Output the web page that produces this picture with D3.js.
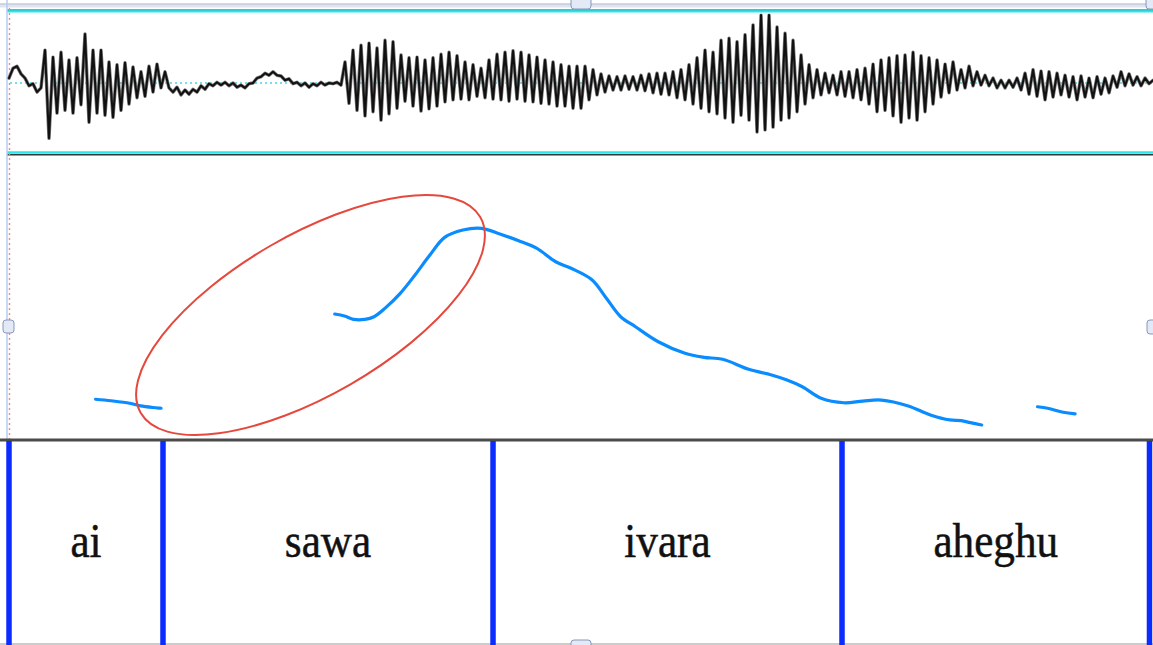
<!DOCTYPE html>
<html>
<head>
<meta charset="utf-8">
<script src="https://cdn.jsdelivr.net/npm/d3@7"></script>
<style>
  html, body { margin: 0; padding: 0; background: #fff; }
  svg { display: block; }
</style>
</head>
<body>
<svg id="chart" width="1153" height="645"></svg>
<script>
// ---------------- DATA ----------------
// Waveform: successive peak amplitudes (percent of full scale), one every waveDt seconds
const waveDt = 0.007024;
const waveAmp = [
  7,21,24,13,7,-4,-1,-13,-7,
  47,-79,37,-43,44,-39,33,-43,36,-31,70,-56,47,-43,47,-46,30,-49,26,-39,29,-30,23,-21,16,-19,24,-13,27,-7,16,
  -7,-13,-6,-17,-10,-16,-9,-13,-4,-9,-1,-4,1,-3,1,-4,0,-6,-3,-7,-1,0,7,9,14,11,16,11,10,4,6,-1,1,-4,0,-6,-1,-4,1,-3,0,-1,1,-3,
  30,-29,47,-39,54,-47,57,-41,50,-53,61,-44,59,-36,40,-26,36,-33,37,-40,33,-37,36,-33,41,-27,44,-24,39,-23,30,-24,26,-19,21,-21,33,-23,41,-24,44,-26,46,-23,44,-26,40,-27,37,-29,33,-30,30,-33,26,-33,24,-36,24,
  -36,24,-24,19,-17,13,-13,10,-10,9,-10,10,-9,9,-10,11,-11,13,-14,14,-16,14,-17,16,-21,19,-24,26,-30,36,
  -36,47,-41,44,-44,61,-50,64,-56,59,-46,69,-53,83,-70,97,-67,97,-63,80,-53,71,-50,61,-41,40,-30,26,-21,19,-17,14,-14,11,-17,16,-19,16,-21,19,
  -24,21,-30,27,-41,33,-39,36,-47,39,-56,40,-50,44,-53,39,-41,36,-30,33,-20,27,-14,30,-10,19,-7,24,-4,16,-3,11,-4,7,-7,
  4,-7,4,-6,7,-10,14,-16,19,-19,17,-24,16,-20,14,-17,11,-20,9,-24,10,-20,7,-21,9,-16,7,-14,10,-6,16,-4,13,-3,9,-4,7,-1,4
];

// Pitch track (time s, F0 Hz), three voiced stretches
const pitchSeg1 = [[0.152,104.4],[0.179,103.5],[0.212,102.0],[0.231,100.4],[0.267,99.0]];
const pitchSeg2 = [
  [0.572,155.4],[0.589,154.2],[0.605,152.2],[0.625,152.2],[0.641,153.8],[0.660,158.8],[0.687,167.8],
  [0.713,178.8],[0.739,190.7],[0.765,201.3],[0.797,205.7],[0.830,206.7],[0.862,203.3],[0.895,199.3],
  [0.927,194.7],[0.960,186.7],[0.987,182.8],[1.024,175.8],[1.047,165.8],[1.074,153.8],[1.100,147.8],
  [1.140,138.8],[1.187,131.9],[1.220,129.5],[1.253,128.3],[1.299,122.3],[1.339,118.9],[1.366,115.9],
  [1.393,111.9],[1.426,105.0],[1.466,102.3],[1.499,103.3],[1.532,103.9],[1.579,100.4],[1.618,95.0],
  [1.652,92.0],[1.672,91.6],[1.688,90.4],[1.708,89.0]
];
const pitchSeg3 = [[1.806,99.9],[1.824,99.0],[1.851,96.6],[1.872,95.6]];

// Text tier
const intervalBounds = [0, 0.2704, 0.8499, 1.4627, 2.0026];
const intervalLabels = ["ai", "sawa", "ivara", "aheghu"];

// Annotation ellipse (centre in time / Hz)
const annotCentre = [0.5294, 154.8];

// ---------------- SCALES ----------------
const svg = d3.select("#chart");
const W = 1153, H = 645;
const x = d3.scaleLinear().domain([0, 2.0]).range([9, 1148]);
const yWave = d3.scaleLinear().domain([-100, 100]).range([153, 13]);
const yPitch = d3.scaleLinear().domain([80, 250]).range([440, 156]);
const tierTop = 441, tierBottom = 645;

svg.append("rect").attr("width", W).attr("height", H).attr("fill", "#fff");

// ---------------- FRAME ----------------
svg.append("rect").attr("x", 0).attr("y", 3.5).attr("width", W).attr("height", 4)
  .attr("fill", "#dfe4ef");
svg.append("line").attr("x1", 0).attr("x2", W).attr("y1", 4).attr("y2", 4)
  .attr("stroke", "#b3bfd8").attr("stroke-width", 1.2);
svg.append("line").attr("x1", 7).attr("x2", W).attr("y1", 11).attr("y2", 11)
  .attr("stroke", "#2ee6e8").attr("stroke-width", 3);
svg.append("line").attr("x1", 7).attr("x2", W).attr("y1", 9.8).attr("y2", 9.8)
  .attr("stroke", "#2a8a98").attr("stroke-width", 0.8);
svg.append("line").attr("x1", 7).attr("x2", W).attr("y1", 152.5).attr("y2", 152.5)
  .attr("stroke", "#2ee6e8").attr("stroke-width", 2.5);
svg.append("line").attr("x1", 7).attr("x2", W).attr("y1", 154.8).attr("y2", 154.8)
  .attr("stroke", "#2d3a3e").attr("stroke-width", 1.6);

svg.append("line").attr("x1", 10).attr("x2", W).attr("y1", yWave(0)).attr("y2", yWave(0))
  .attr("stroke", "#45d6e4").attr("stroke-width", 1.4).attr("stroke-dasharray", "2,3");

svg.append("line").attr("x1", 7).attr("x2", 7).attr("y1", 0).attr("y2", 440)
  .attr("stroke", "#b5cdf0").attr("stroke-width", 1.5);
svg.append("line").attr("x1", 9.5).attr("x2", 9.5).attr("y1", 8).attr("y2", 440)
  .attr("stroke", "#f08a8a").attr("stroke-width", 1.4).attr("stroke-dasharray", "2,3");

// ---------------- WAVEFORM ----------------
const wavePts = waveAmp.map((v, i) => [i * waveDt, v]);
const waveLine = d3.line().x(d => x(d[0])).y(d => yWave(d[1]));
// soft grey body, then dark core
svg.append("path").datum(wavePts)
  .attr("fill", "none").attr("stroke", "#7a7a7a").attr("stroke-width", 3.4)
  .attr("stroke-linejoin", "round").attr("stroke-linecap", "round")
  .attr("d", waveLine);
svg.append("path").datum(wavePts)
  .attr("fill", "none").attr("stroke", "#111").attr("stroke-width", 2)
  .attr("stroke-linejoin", "round").attr("stroke-linecap", "round")
  .attr("d", waveLine);

// ---------------- PITCH ----------------
const pitchLine = d3.line().x(d => x(d[0])).y(d => yPitch(d[1])).curve(d3.curveCatmullRom.alpha(0.5));
[pitchSeg1, pitchSeg2, pitchSeg3].forEach(seg => {
  svg.append("path").datum(seg)
    .attr("fill", "none")
    .attr("stroke", "#0a8cff")
    .attr("stroke-width", 3.2)
    .attr("stroke-linecap", "round")
    .attr("stroke-linejoin", "round")
    .attr("d", pitchLine);
});

svg.append("ellipse")
  .attr("cx", 0).attr("cy", 0).attr("rx", 196).attr("ry", 80)
  .attr("transform", `translate(${x(annotCentre[0])},${yPitch(annotCentre[1])}) rotate(-30)`)
  .attr("fill", "none")
  .attr("stroke", "#e5483c")
  .attr("stroke-width", 2);

svg.append("line").attr("x1", 0).attr("x2", W).attr("y1", 440).attr("y2", 440)
  .attr("stroke", "#4b4b4b").attr("stroke-width", 3);

// ---------------- TEXT TIER ----------------
svg.append("line").attr("x1", 0).attr("x2", W).attr("y1", 644).attr("y2", 644)
  .attr("stroke", "#9a9a9a").attr("stroke-width", 1.2);

const intervals = intervalLabels.map((lab, i) => ({
  label: lab, t0: intervalBounds[i], t1: intervalBounds[i + 1]
}));

svg.append("g").selectAll("line").data(intervalBounds).join("line")
  .attr("x1", d => x(d)).attr("x2", d => x(d))
  .attr("y1", tierTop).attr("y2", tierBottom)
  .attr("stroke", "#0b2bff").attr("stroke-width", 5.5);

svg.append("g").selectAll("text").data(intervals).join("text")
  .attr("transform", d => `translate(${x((d.t0 + d.t1) / 2)},557) scale(0.9,1)`)
  .attr("text-anchor", "middle")
  .attr("font-family", "'Liberation Serif', 'Times New Roman', serif")
  .attr("font-size", 48)
  .attr("fill", "#111")
  .attr("stroke", "#111")
  .attr("stroke-width", 0.5)
  .text(d => d.label);

// ---------------- HANDLES ----------------
function handle(hx, hy, hw, hh) {
  svg.append("rect").attr("x", hx).attr("y", hy).attr("width", hw).attr("height", hh)
    .attr("rx", 3).attr("ry", 3)
    .attr("fill", "#e3e9f5").attr("stroke", "#8797bd").attr("stroke-width", 1);
}
handle(571, -4, 20, 13);
handle(3, 320, 11, 13);
handle(1147, 320, 10, 14);
handle(1146, -4, 10, 13);
handle(571, 640, 20, 10);
</script>
</body>
</html>
